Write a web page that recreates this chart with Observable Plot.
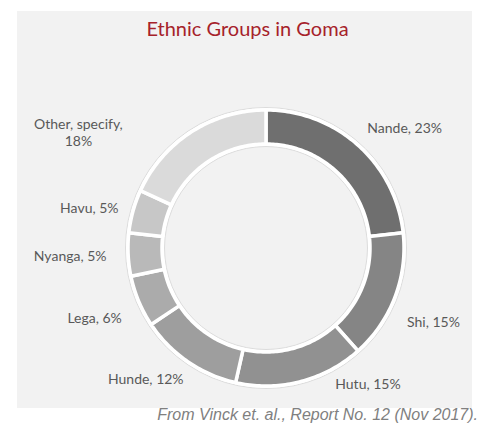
<!DOCTYPE html>
<html>
<head>
<meta charset="utf-8">
<script src="https://cdn.jsdelivr.net/npm/d3@7"></script>
<script src="https://cdn.jsdelivr.net/npm/@observablehq/plot@0.6"></script>
<style>
  html, body { margin: 0; padding: 0; background: #ffffff; }
  #wrap { position: relative; width: 491px; height: 426px; }
  #chart { position: absolute; left: 17px; top: 11px; }
  #caption {
    position: absolute; right: 13px; top: 406px;
    font-family: "Liberation Sans", Arial, sans-serif; font-style: italic;
    font-size: 16px; color: #808080; white-space: nowrap;
  }
</style>
</head>
<body>
<div id="wrap">
  <div id="chart"></div>
  <div id="caption">From Vinck et. al., Report No. 12 (Nov 2017).</div>
</div>
<script>
// ---- data ----
const groups = ["Nande", "Shi", "Hutu", "Hunde", "Lega", "Nyanga", "Havu", "Other, specify,"];
const shares = [23, 15, 15, 12, 6, 5, 5, 18];
const title = "Ethnic Groups in Goma";

// ---- style / layout ----
const colors = ["#6f6f6f", "#858585", "#919191", "#9e9e9e", "#ababab", "#b9b9b9", "#c7c7c7", "#dadada"];
const W = 455, H = 397;
const cx = 248.5, cy = 236.5;
const rOuter = 138, rInner = 104, rLabel = 175;
// label nudges (px) relative to mid-angle anchor, mimicking Excel's best-fit placement
const nudges = [[22, 10], [4, 11], [58, -34], [-21, -14], [-10, 2], [-21, -1], [-8, 6], [-93, 31]];

const data = groups.map((g, i) => ({group: g, value: shares[i]}));
const arcs = d3.pie().sort(null).value(d => d.value)(data);

const pt = (a, r) => [cx + r * Math.sin(a), cy - r * Math.cos(a)];
const polys = [];
arcs.forEach(a => {
  const n = Math.max(4, Math.ceil((a.endAngle - a.startAngle) / (Math.PI / 180)));
  for (let k = 0; k <= n; k++) {
    const t = a.startAngle + (a.endAngle - a.startAngle) * k / n;
    const [x, y] = pt(t, rOuter);
    polys.push({group: a.data.group, x, y});
  }
  for (let k = n; k >= 0; k--) {
    const t = a.startAngle + (a.endAngle - a.startAngle) * k / n;
    const [x, y] = pt(t, rInner);
    polys.push({group: a.data.group, x, y});
  }
});

const labels = arcs.map((a, i) => {
  const mid = (a.startAngle + a.endAngle) / 2;
  const [x, y] = pt(mid, rLabel);
  return {
    x: x + nudges[i][0], y: y + nudges[i][1],
    text: a.data.group.startsWith("Other")
      ? `${a.data.group}\n${a.data.value}%`
      : `${a.data.group}, ${a.data.value}%`
  };
});

const chart = Plot.plot({
  width: W, height: H,
  margin: 0,
  style: {background: "#f2f2f2", overflow: "visible"},
  x: {domain: [0, W], range: [0, W], axis: null},
  y: {domain: [0, H], range: [0, H], axis: null},
  color: {domain: groups, range: colors},
  marks: [
    Plot.dot([0], {x: () => cx, y: () => cy, r: rOuter + 2.5, fill: "#ffffff", stroke: "#dcdcdc", strokeWidth: 1}),
    Plot.dot([0], {x: () => cx, y: () => cy, r: rInner - 2.5, fill: "#f2f2f2", stroke: "#dcdcdc", strokeWidth: 1}),
    Plot.line(polys, {x: "x", y: "y", z: "group", fill: "group", stroke: "#ffffff", strokeWidth: 3.5, curve: "linear-closed"}),
    Plot.text(labels, {x: "x", y: "y", text: "text", fill: "#595959", fontSize: 14, fontFamily: "Lato", textAnchor: "middle", lineAnchor: "middle", lineHeight: 1.2}),
    Plot.text([title], {frameAnchor: "top", dy: 10, dx: 2.5, fill: "#a6222a", fontSize: 20, fontFamily: "Lato", lineAnchor: "top"})
  ]
});
document.getElementById("chart").appendChild(chart);
</script>
</body>
</html>
